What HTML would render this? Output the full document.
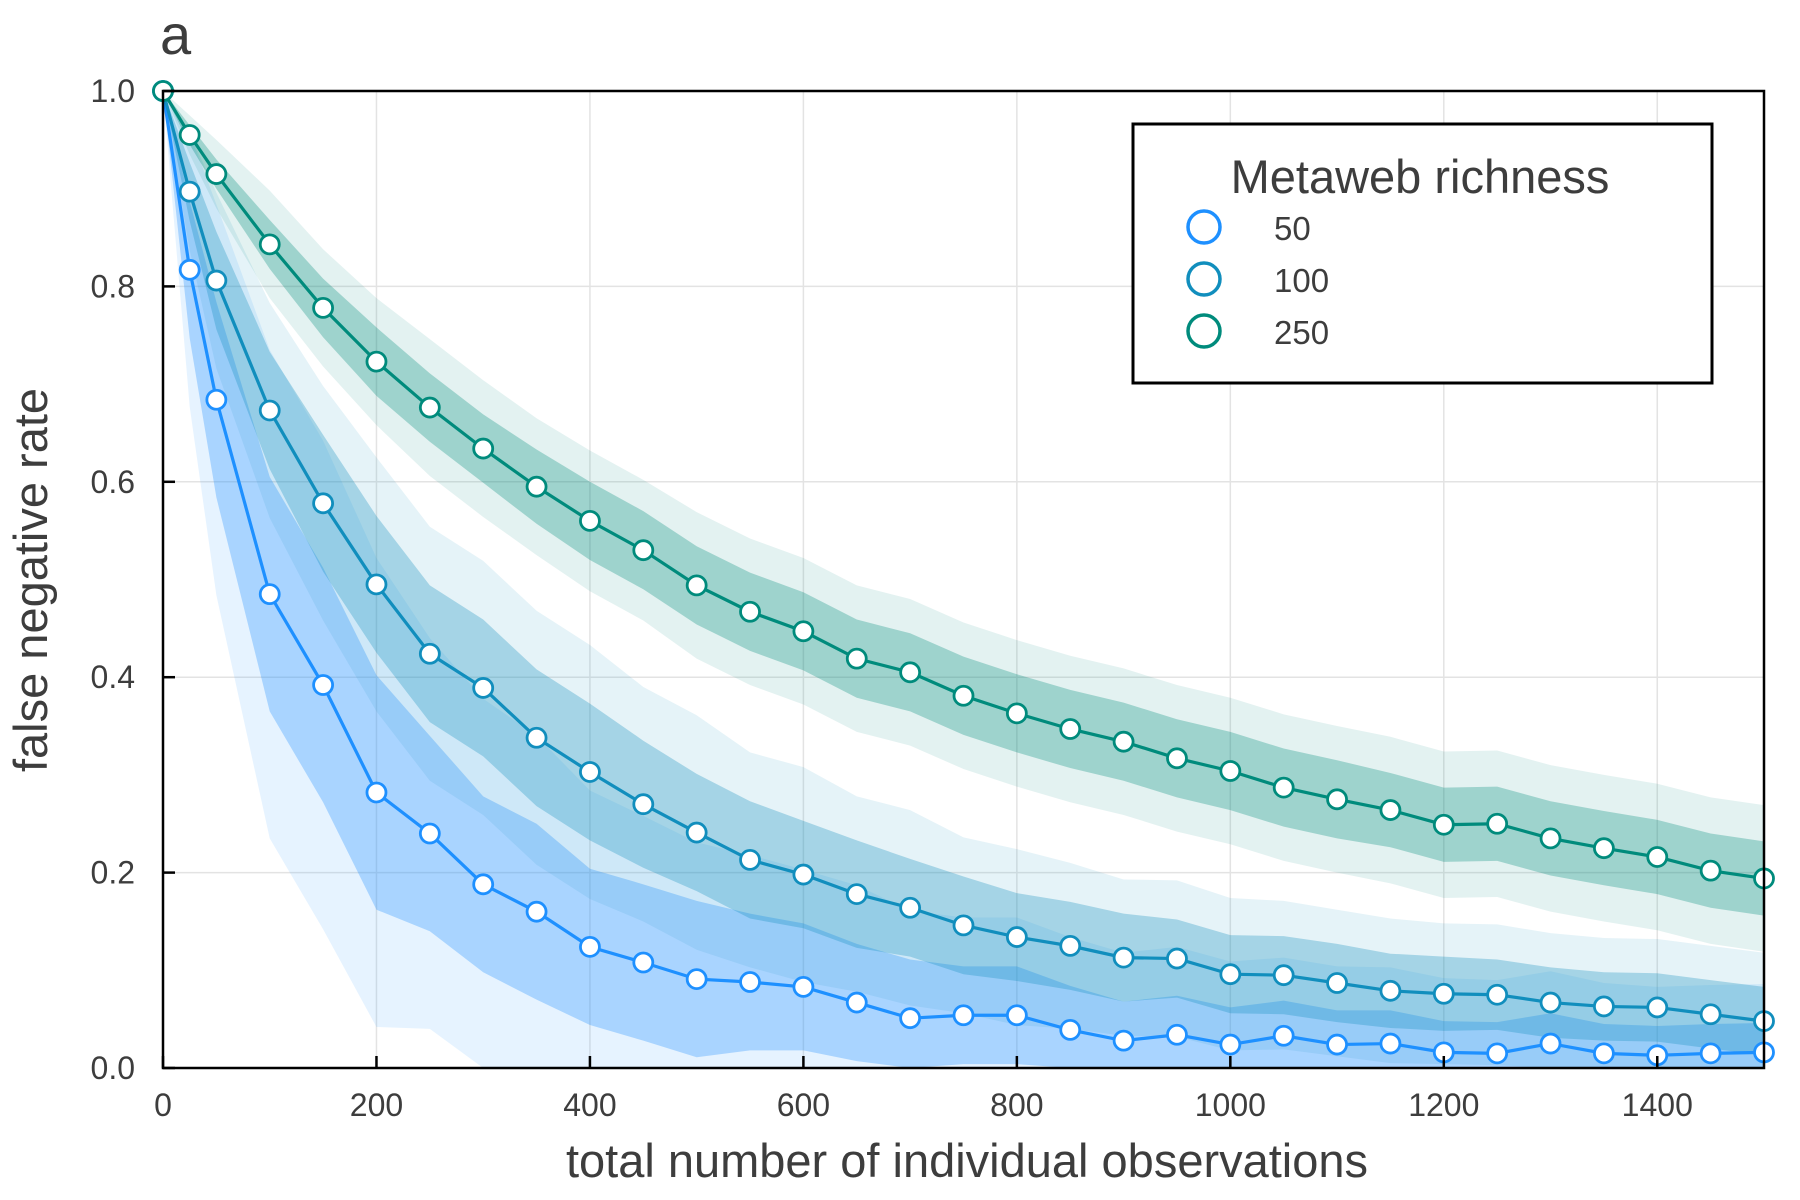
<!DOCTYPE html>
<html><head><meta charset="utf-8"><style>
html,body{margin:0;padding:0;background:#fff;}
svg{display:block;font-family:"Liberation Sans",sans-serif;}
</style></head><body>
<svg id="chart" width="1800" height="1200" viewBox="0 0 1800 1200">
<rect width="1800" height="1200" fill="#fff"/>
<g id="grid"></g>
<g id="bands"></g>
<g id="lines"></g>
<g id="axes"></g>
<text x="160" y="54" font-size="56" fill="#3d3d3d">a</text>
<text x="967" y="1177" font-size="47" fill="#3d3d3d" text-anchor="middle">total number of individual observations</text>
<text x="0" y="0" font-size="47" fill="#3d3d3d" text-anchor="middle" transform="translate(47,580) rotate(-90)">false negative rate</text>
<g>
<rect x="1133" y="124" width="579" height="259" fill="#fff" stroke="#000" stroke-width="3"/>
<text x="1420" y="193" font-size="47" fill="#3d3d3d" text-anchor="middle">Metaweb richness</text>
<g><circle cx="1204" cy="227" r="16" fill="#fff" stroke="#1e90ff" stroke-width="3.5"/><text x="1274" y="240" font-size="33" fill="#3d3d3d">50</text></g>
<g><circle cx="1204" cy="279" r="16" fill="#fff" stroke="#118ebd" stroke-width="3.5"/><text x="1274" y="292" font-size="33" fill="#3d3d3d">100</text></g>
<g><circle cx="1204" cy="331" r="16" fill="#fff" stroke="#008b7c" stroke-width="3.5"/><text x="1274" y="344" font-size="33" fill="#3d3d3d">250</text></g>
</g>
</svg>
<script>
const xs = [0,25,50,100,150,200,250,300,350,400,450,500,550,600,650,700,750,800,850,900,950,1000,1050,1100,1150,1200,1250,1300,1350,1400,1450,1500];
const s250 = [1.0,0.955,0.915,0.843,0.778,0.723,0.676,0.634,0.595,0.56,0.53,0.494,0.467,0.447,0.419,0.405,0.381,0.363,0.347,0.334,0.317,0.304,0.287,0.275,0.264,0.249,0.25,0.235,0.225,0.216,0.202,0.194];
const s100 = [1.0,0.897,0.806,0.673,0.578,0.495,0.424,0.389,0.338,0.303,0.27,0.241,0.213,0.198,0.178,0.164,0.146,0.134,0.125,0.113,0.112,0.096,0.095,0.087,0.079,0.076,0.075,0.067,0.063,0.062,0.055,0.048];
const s50 = [1.0,0.817,0.684,0.485,0.392,0.282,0.24,0.188,0.16,0.124,0.108,0.091,0.088,0.083,0.067,0.051,0.054,0.054,0.039,0.028,0.034,0.024,0.033,0.024,0.025,0.016,0.015,0.025,0.015,0.013,0.015,0.016];
const in250 = [0,0.01,0.015,0.025,0.03,0.035,0.035,0.035,0.038,0.04,0.04,0.04,0.04,0.04,0.04,0.04,0.04,0.04,0.04,0.04,0.04,0.04,0.04,0.04,0.038,0.038,0.038,0.038,0.038,0.038,0.038,0.038];
const out250 = [0,0.02,0.035,0.055,0.06,0.065,0.07,0.07,0.07,0.072,0.072,0.075,0.075,0.075,0.075,0.075,0.075,0.075,0.075,0.075,0.075,0.075,0.075,0.075,0.075,0.075,0.075,0.075,0.075,0.075,0.075,0.075];
const in100 = [0,0.03,0.05,0.06,0.07,0.07,0.07,0.07,0.07,0.07,0.065,0.06,0.06,0.055,0.055,0.05,0.05,0.045,0.045,0.045,0.04,0.04,0.04,0.04,0.038,0.038,0.036,0.036,0.035,0.035,0.035,0.035];
const out100 = [0,0.06,0.09,0.11,0.12,0.13,0.13,0.13,0.13,0.13,0.12,0.12,0.11,0.11,0.1,0.1,0.09,0.09,0.085,0.08,0.08,0.078,0.076,0.075,0.074,0.072,0.072,0.071,0.07,0.07,0.07,0.07];
const in50 = [0,0.07,0.1,0.12,0.12,0.12,0.1,0.09,0.09,0.08,0.08,0.08,0.07,0.065,0.06,0.06,0.05,0.05,0.045,0.04,0.04,0.038,0.036,0.035,0.034,0.032,0.032,0.031,0.03,0.03,0.03,0.03];
const out50 = [0,0.14,0.2,0.25,0.25,0.24,0.2,0.19,0.18,0.16,0.15,0.14,0.13,0.12,0.12,0.11,0.1,0.1,0.095,0.09,0.09,0.085,0.08,0.08,0.078,0.076,0.075,0.074,0.072,0.07,0.07,0.07];
const xTicks = [0,200,400,600,800,1000,1200,1400];
const yTicks = [0,0.2,0.4,0.6,0.8,1.0];
const yTickLabels = ["0.0","0.2","0.4","0.6","0.8","1.0"];

const L=163,R=1764,T=91,B=1068;
function xScale(v){return L+(v/1500)*(R-L);}
function yScale(v){return B-v*(B-T);}
const NS="http://www.w3.org/2000/svg";
function mk(tag,attrs,parent){const e=document.createElementNS(NS,tag);for(const k in attrs)e.setAttribute(k,attrs[k]);parent.appendChild(e);return e;}
const grid=document.getElementById('grid'),bands=document.getElementById('bands'),lines=document.getElementById('lines'),axes=document.getElementById('axes');

xTicks.forEach(t=>{
  const g=mk('line',{x1:xScale(t),x2:xScale(t),y1:T,y2:B,stroke:'#e3e3e3','stroke-width':1.5},grid);
  
  
});
yTicks.forEach(t=>{
  const g=mk('line',{x1:L,x2:R,y1:yScale(t),y2:yScale(t),stroke:'#e3e3e3','stroke-width':1.5},grid);
  
  
});

function clamp(v){return Math.max(0,Math.min(1,v));}
function band(mean,hw,color,op,name){
  let d='';
  xs.forEach((x,i)=>{d+=(i?'L':'M')+xScale(x)+','+yScale(clamp(mean[i]+hw[i]));});
  for(let i=xs.length-1;i>=0;i--){d+='L'+xScale(xs[i])+','+yScale(clamp(mean[i]-hw[i]));}
  const p=mk('path',{d:d+'Z',fill:color,'fill-opacity':op},bands);
  
  
}
const series=[
  {m:s50,i:in50,o:out50,c:'#1e90ff',n:'50'},
  {m:s100,i:in100,o:out100,c:'#118ebd',n:'100'},
  {m:s250,i:in250,o:out250,c:'#008b7c',n:'250'}
];
series.forEach(s=>{
  band(s.m,s.o,s.c,0.11,'band-outer-'+s.n);
  band(s.m,s.i,s.c,0.3,'band-inner-'+s.n);
});
series.forEach(s=>{
  const pts=xs.map((x,i)=>xScale(x)+','+yScale(s.m[i])).join(' ');
  const pl=mk('polyline',{points:pts,fill:'none',stroke:s.c,'stroke-width':3.2},lines);
  
  
  xs.forEach((x,i)=>{
    const c=mk('circle',{cx:xScale(x),cy:yScale(s.m[i]),r:9.5,fill:'#fff',stroke:s.c,'stroke-width':2.8},lines);
    
    
  });
});

const fr=mk('rect',{x:L,y:T,width:R-L,height:B-T,fill:'none',stroke:'#000','stroke-width':2.5},axes);


xTicks.forEach(t=>{
  const tk=mk('line',{x1:xScale(t),x2:xScale(t),y1:B,y2:B-12,stroke:'#000','stroke-width':2.5},axes);
  
  
  const tx=mk('text',{x:xScale(t),y:B+48,'font-size':32,fill:'#3d3d3d','text-anchor':'middle'},axes);
  tx.textContent=String(t);
  
  
});
yTicks.forEach((t,i)=>{
  const tk=mk('line',{x1:L,x2:L+12,y1:yScale(t),y2:yScale(t),stroke:'#000','stroke-width':2.5},axes);
  
  
  const tx=mk('text',{x:L-28,y:yScale(t)+11,'font-size':32,fill:'#3d3d3d','text-anchor':'end'},axes);
  tx.textContent=yTickLabels[i];
  
  
});
</script>
</body></html>
